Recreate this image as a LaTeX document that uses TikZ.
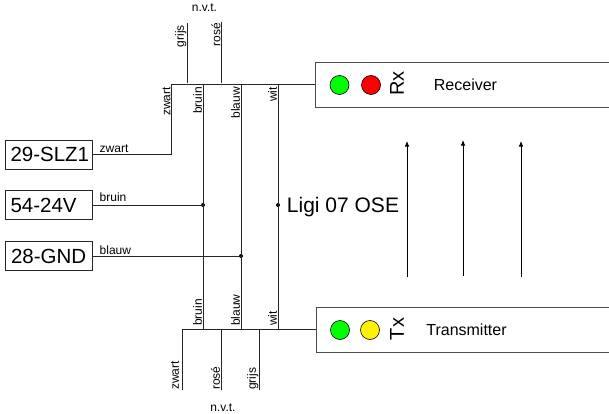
\documentclass[tikz,border=0pt]{standalone}
\usepackage{fontspec}
\setmainfont{Liberation Sans}
\tikzset{
    wire/.style={draw=black!85,line width=1pt},
    beam/.style={draw=black,line width=0.8pt,-{Latex[length=5.5pt,width=4.5pt]}},
    conbox/.style={draw=black!85,line width=0.9pt,fill=white,inner sep=0pt,minimum width=87pt,minimum height=29pt,text width=76pt,align=left,font=\fontsize{20.5}{20.5}\selectfont},
    unitbox/.style={draw=black!70,line width=1pt,fill=white,inner sep=0pt,minimum width=310pt,minimum height=45pt,anchor=west},
    led/.style={circle,draw=black,line width=0.6pt,inner sep=0pt,minimum size=19pt},
    junction/.style={circle,fill=black,inner sep=0pt,minimum size=4pt},
    wirelabel/.style={font=\fontsize{12}{12}\selectfont,inner sep=0pt},
    vlabel/.style={wirelabel,text depth=0pt,rotate=90,anchor=south east},
    upright/.style={rotate=90,inner sep=0pt,font=\fontsize{20}{20}\selectfont},
}
\usetikzlibrary{arrows.meta}
\begin{document}
\begin{tikzpicture}[x=1pt,y=-1pt]
    \clip (0,0) rectangle (609,414);
    % connectors on the left
    \node[conbox] (slz) at (48.5,154.5) {\mbox{29-SLZ1}};
    \node[conbox] (vcc) at (48.5,205) {\mbox{54-24V}};
    \node[conbox] (gnd) at (49,256) {\mbox{28-GND}};
    % the two units
    \node[unitbox] (rx) at (315,85) {};
    \node[unitbox] (tx) at (316,329.5) {};
    \node[led,fill=green] (rxgreen) at (339.5,85) {};
    \node[led,fill=red] (rxred) at (371,85) {};
    \node[led,fill=green] (txgreen) at (340,330) {};
    \node[led,fill=yellow] (txyellow) at (370,330) {};
    \node[upright] (rxname) at (397,83.5) {Rx};
    \node[upright] (txname) at (397,329) {Tx};
    \node[inner sep=0pt,font=\fontsize{16}{16}\selectfont] (rxtext) at (465.5,85) {Receiver};
    \node[inner sep=0pt,font=\fontsize{16}{16}\selectfont] (txtext) at (466.5,329.5) {Transmitter};
    \node[inner sep=0pt,font=\fontsize{21}{21}\selectfont] (ligi) at (343,207) {Ligi 07 OSE};
    % bus corners and branch points
    \coordinate (topl) at (171,85);
    \coordinate (botl) at (182,329.5);
    \coordinate (topbruin) at (203,85);
    \coordinate (topblauw) at (241,85);
    \coordinate (topwit) at (278,85);
    \coordinate (botbruin) at (203,329.5);
    \coordinate (botblauw) at (241,329.5);
    \coordinate (botwit) at (278,329.5);
    \coordinate (botrose) at (221,329.5);
    \coordinate (botgrijs) at (259,329.5);
    \coordinate (botzwart) at (182,390);
    \coordinate (rosedown) at (221,390);
    \coordinate (grijsdown) at (259,390);
    \coordinate (grijstop) at (187,23);
    \coordinate (grijsend) at (187,83);
    \coordinate (rosetop) at (221,22);
    \coordinate (roseend) at (221,83);
    % wiring
    \node[junction] (jbruin) at (203,205) {};
    \node[junction] (jblauw) at (241,256) {};
    \node[junction] (jwit) at (278,205) {};
    \draw[wire] (rx.west) -- (topl) |- (slz.east);
    \draw[wire] (tx.west) -- (botl) -- (botzwart);
    \draw[wire] (vcc.east) -- (jbruin.center);
    \draw[wire] (gnd.east) -- (jblauw.center);
    \draw[wire] (topbruin) -- (botbruin);
    \draw[wire] (topblauw) -- (botblauw);
    \draw[wire] (topwit) -- (botwit);
    \draw[wire] (grijstop) -- (grijsend);
    \draw[wire] (rosetop) -- (roseend);
    \draw[wire] (botrose) -- (rosedown);
    \draw[wire] (botgrijs) -- (grijsdown);
    % wire labels
    \node[wirelabel,anchor=base west] at (99.5,152.5) {zwart};
    \node[wirelabel,anchor=base west] at (99.5,201.5) {bruin};
    \node[wirelabel,anchor=base west] at (99.5,254.5) {blauw};
    \node[vlabel] at (170.5,87) {zwart};
    \node[vlabel] at (202,87) {bruin};
    \node[vlabel] at (240,87) {blauw};
    \node[vlabel] at (277,87) {wit};
    \node[vlabel] at (184,25) {grijs};
    \node[vlabel] at (220.5,23) {rosé};
    \node[vlabel,anchor=south west] at (202,326) {bruin};
    \node[vlabel,anchor=south west] at (240,326) {blauw};
    \node[vlabel,anchor=south west] at (277,326) {wit};
    \node[vlabel,anchor=south west] at (179,390) {zwart};
    \node[vlabel,anchor=south west] at (220,390) {rosé};
    \node[vlabel,anchor=south west] at (256,390) {grijs};
    \node[wirelabel] at (204.5,8) {n.v.t.};
    \node[wirelabel] at (223,408) {n.v.t.};
    % light beams
    \coordinate (beama) at (407,277);
    \coordinate (beamb) at (463,276);
    \coordinate (beamc) at (521,277);
    \coordinate (beamatip) at (407,141);
    \coordinate (beambtip) at (463,140);
    \coordinate (beamctip) at (521,141);
    \draw[beam] (beama) -- (beamatip);
    \draw[beam] (beamb) -- (beambtip);
    \draw[beam] (beamc) -- (beamctip);
\end{tikzpicture}
\end{document}
